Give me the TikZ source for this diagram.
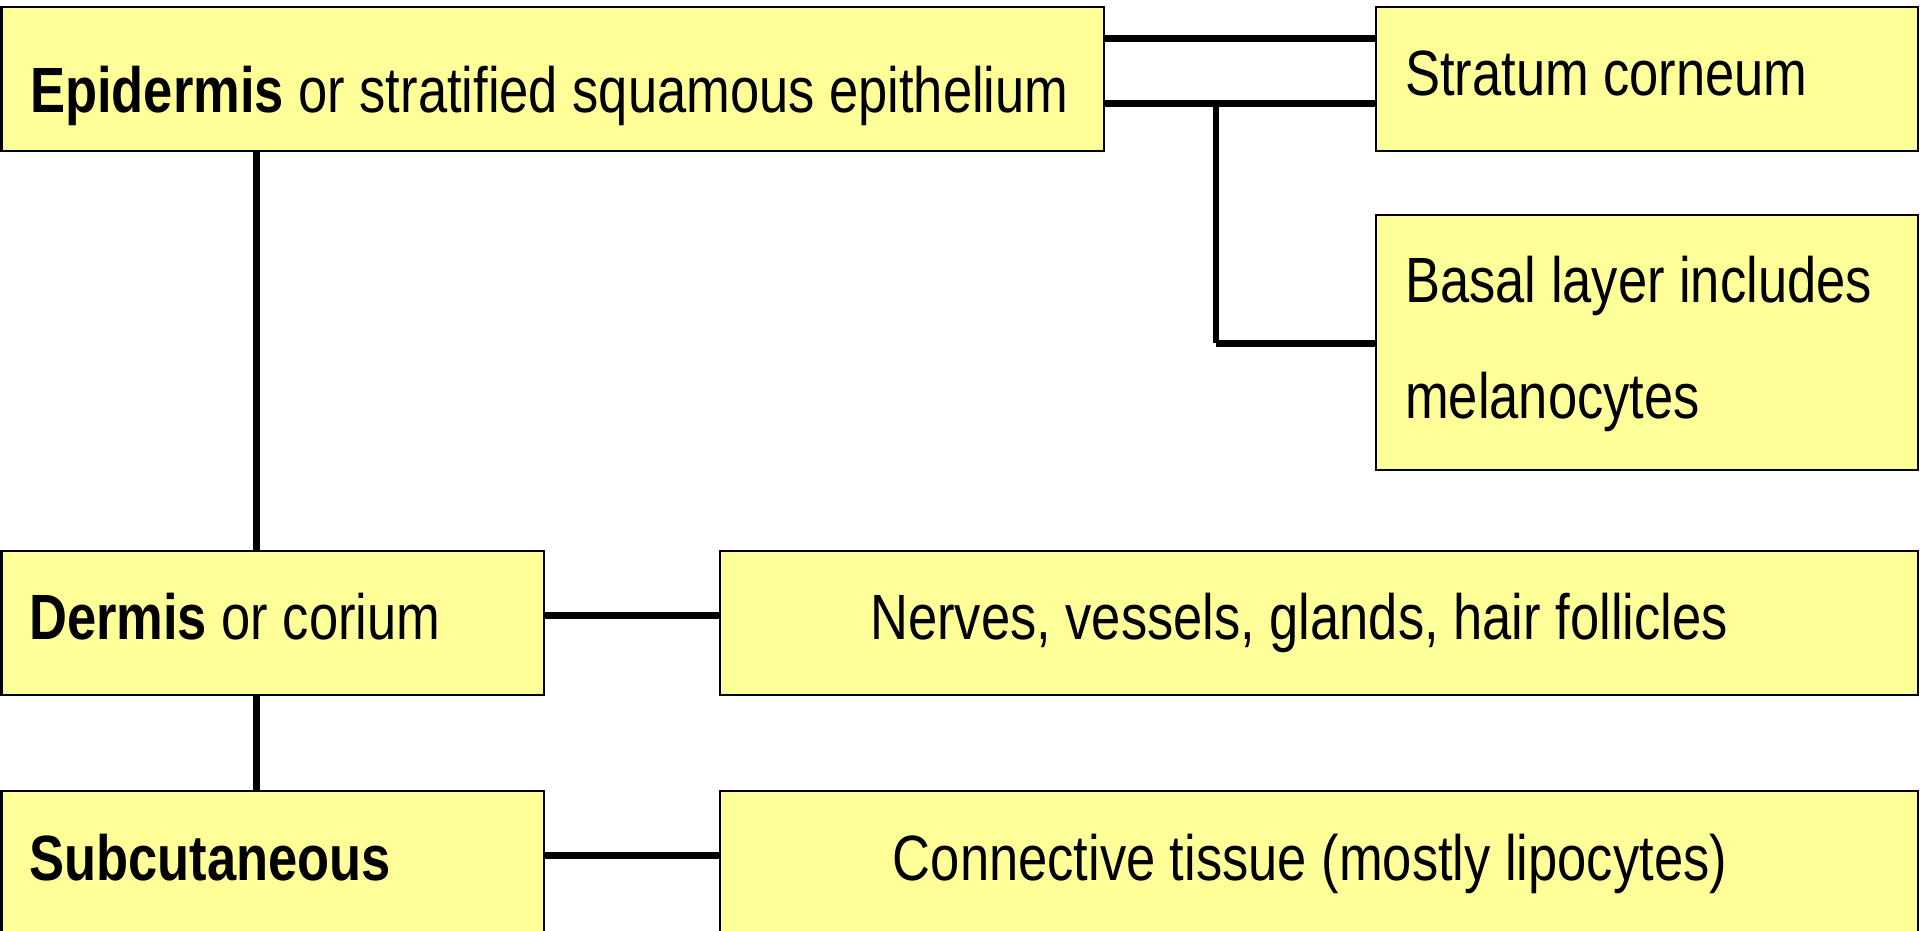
\documentclass[tikz,border=0pt]{standalone}
\usepackage{fontspec}
\setmainfont[FakeStretch=0.82]{Liberation Sans}
\definecolor{boxfill}{HTML}{FFFF99}
\begin{document}
\begin{tikzpicture}[x=1pt,y=-1pt,
  box/.style={draw=black,line width=2.5pt,fill=boxfill,rectangle,inner sep=0pt},
  lbl/.style={anchor=base west,inner sep=0pt,font=\fontsize{64}{77}\selectfont},
  clbl/.style={anchor=base,inner sep=0pt,font=\fontsize{64}{77}\selectfont},
  conn/.style={line width=7pt},
  vconn/.style={line width=6pt}]
\useasboundingbox (0,0) rectangle (1920,930);
% boxes
\node[box,minimum width=1102.5pt,minimum height=144pt] (epi) at (552.75,79) {};
\node[box,minimum width=542pt,minimum height=144pt] (strat) at (1647,79) {};
\node[box,minimum width=542pt,minimum height=255pt] (basal) at (1647,342.5) {};
\node[box,minimum width=542.5pt,minimum height=144pt] (derm) at (272.75,623) {};
\node[box,minimum width=1198pt,minimum height=144pt] (nerv) at (1319,623) {};
\node[box,minimum width=542.5pt,minimum height=174pt] (subc) at (272.75,878) {};
\node[box,minimum width=1198pt,minimum height=174pt] (ctis) at (1319,878) {};
% texts
\node[lbl] (epiT) at (30,112) {\textbf{Epidermis} or stratified squamous epithelium};
\node[lbl] (stratT) at (1405,95) {Stratum corneum};
\node[lbl] (basalT) at (1405,302) {Basal layer includes};
\node[lbl] (melT) at (1405,418) {melanocytes};
\node[lbl] (dermT) at (29,639) {\textbf{Dermis} or corium};
\node[clbl] (nervT) at (1299,639) {Nerves, vessels, glands, hair follicles};
\node[lbl] (subcT) at (29,880) {\textbf{Subcutaneous}};
\node[clbl] (ctisT) at (1310,880) {Connective tissue (mostly lipocytes)};
% helper coordinates
\coordinate (vx) at (256,0);
\coordinate (r1) at (0,38);
\coordinate (r2) at (0,103);
\coordinate (j1) at (1216,103);
\coordinate (j2) at (1216,343);
\coordinate (r3) at (0,615);
\coordinate (r4) at (0,855);
% connectors
\draw[conn] (epi.east |- r1) -- (strat.west |- r1);
\draw[conn] (epi.east |- r2) -- (strat.west |- r2);
\draw[vconn] (j1) -- (j2);
\draw[conn] (j2) -- (basal.west |- j2);
\draw[conn] (epi.south -| vx) -- (derm.north -| vx);
\draw[conn] (derm.south -| vx) -- (subc.north -| vx);
\draw[conn] (derm.east |- r3) -- (nerv.west |- r3);
\draw[conn] (subc.east |- r4) -- (ctis.west |- r4);
\end{tikzpicture}
\end{document}
